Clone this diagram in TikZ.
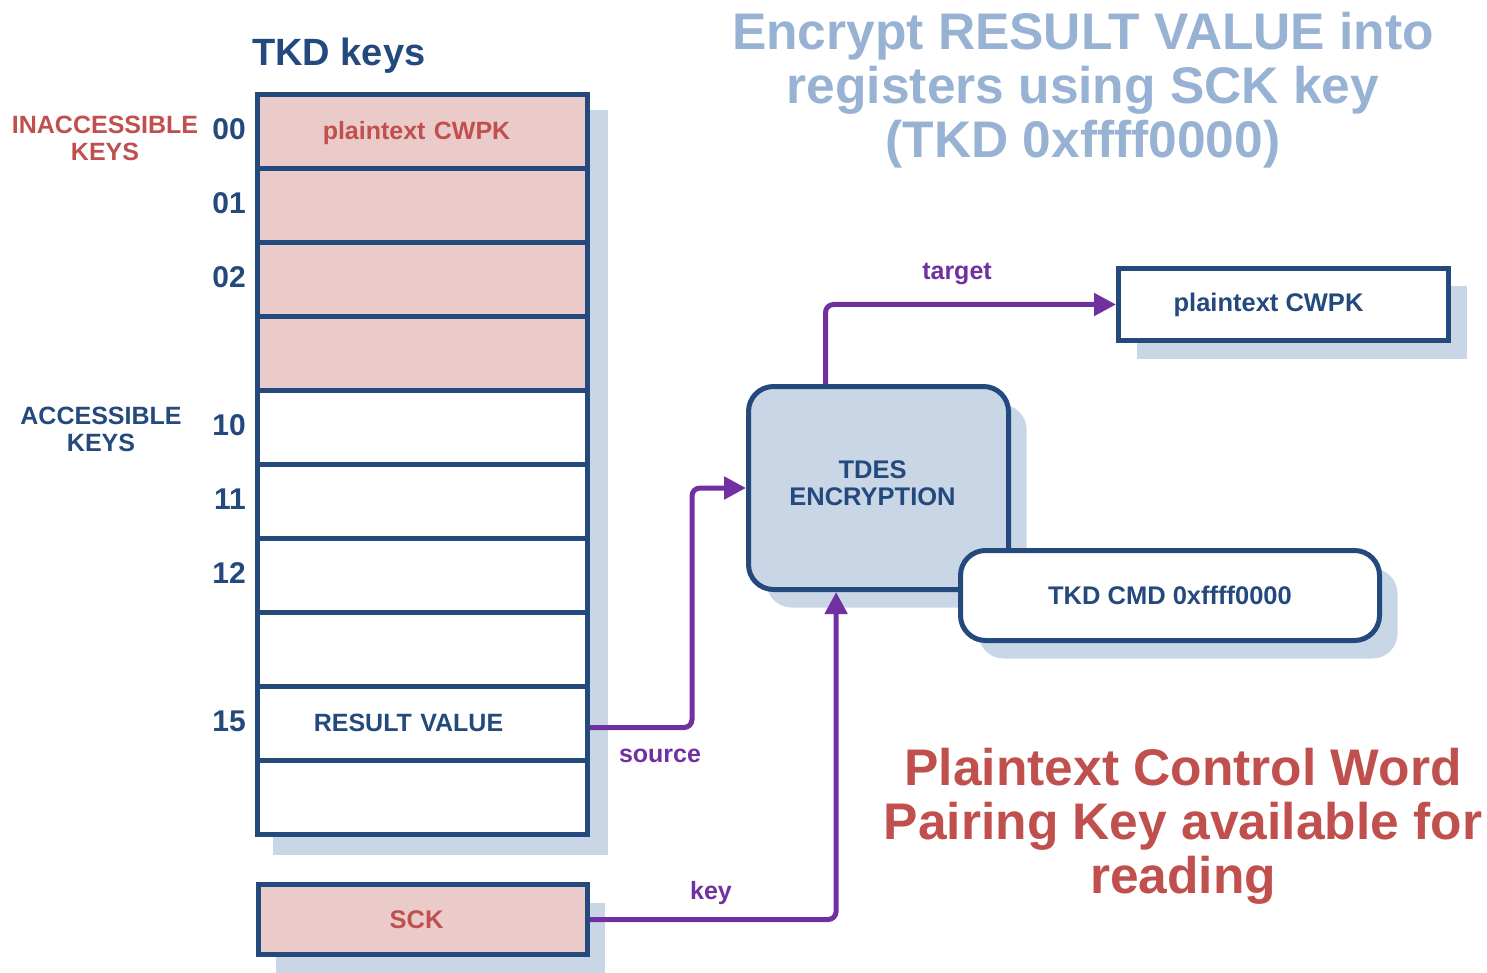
\documentclass[tikz,border=0pt]{standalone}
\usepackage{fontspec}
\setmainfont{Liberation Sans}
\usetikzlibrary{positioning,calc,shapes.multipart,shadows,arrows.meta,backgrounds}
\definecolor{keyblue}{HTML}{24497D}
\definecolor{keypink}{HTML}{EBCBCA}
\definecolor{alertred}{HTML}{C0504D}
\definecolor{flowpurple}{HTML}{7030A0}
\definecolor{paleblue}{HTML}{C8D6E6}
\definecolor{titleblue}{HTML}{98B2D4}
\newcommand\rowstrut{\rule[-26.5pt]{0pt}{69pt}}
\newcommand\boldsize[2]{\fontsize{#1}{#2}\selectfont\bfseries}

\begin{document}
\begin{tikzpicture}
   [x=1pt,y=-1pt,
    stack/.style={rectangle split, rectangle split parts=#1, draw=keyblue,
      line width=5pt, text width=330pt, inner xsep=0pt, inner ysep=0pt,
      align=center, text=keyblue, font=\boldsize{25pt}{27pt}},
    shadowed/.style={drop shadow={shadow xshift=18pt,shadow yshift=-18pt,
      fill=paleblue,opacity=1}},
    box/.style={draw=keyblue, line width=5pt, text=keyblue, align=center,
      inner sep=0pt, font=\boldsize{25.5pt}{27pt}},
    rowlbl/.style={anchor=base east, inner sep=0pt, text=keyblue,
      font=\boldsize{30pt}{30pt}},
    grouplbl/.style={align=center, inner sep=0pt, font=\boldsize{25pt}{27pt}},
    flow/.style={draw=flowpurple, line width=5pt, rounded corners=8pt,
      -{Triangle[length=22pt,width=22pt]}},
    flowlbl/.style={anchor=base, inner sep=0pt, text=flowpurple,
      font=\boldsize{25pt}{27pt}},
    bigtext/.style={anchor=north, align=center, inner sep=0pt,
      font=\boldsize{51.5pt}{54pt}}]
\useasboundingbox (0,0) rectangle (1487,973);
\node [anchor=base west, inner sep=0pt, text=keyblue, font=\boldsize{38pt}{40pt}] (stktitle)
  at (252,65.5) {TKD keys};
\node [stack=10, rectangle split part fill={keypink,keypink,keypink,keypink,
		white,white,white,white,white,white}] (stk) at (422.5,464.5) {
\nodepart{one} \rowstrut\hspace*{-12pt}\textcolor{alertred}{plaintext CWPK}
\nodepart{two} \rowstrut
\nodepart{three} \rowstrut
\nodepart{four} \rowstrut
\nodepart{five} \rowstrut
\nodepart{six} \rowstrut
\nodepart{seven} \rowstrut
\nodepart{eight} \rowstrut
\nodepart{nine} \rowstrut\hspace*{-28pt}RESULT VALUE
\nodepart{ten} \rowstrut
};
\begin{scope}[on background layer]
\fill [paleblue] ($(stk.north west)+(18,18)$) rectangle ($(stk.south east)+(18,18)$);
\end{scope}
\node [rowlbl, xshift=-9pt] (k00) at (stk.west |- stk.text) {00};
\node [rowlbl, xshift=-9pt] (k01) at (stk.west |- stk.two) {01};
\node [rowlbl, xshift=-9pt] (k02) at (stk.west |- stk.three) {02};
\node [rowlbl, xshift=-9pt] (k10) at (stk.west |- stk.five) {10};
\node [rowlbl, xshift=-9pt] (k11) at (stk.west |- stk.six) {11};
\node [rowlbl, xshift=-9pt] (k12) at (stk.west |- stk.seven) {12};
\node [rowlbl, xshift=-9pt] (k15) at (stk.west |- stk.nine) {15};
\node [grouplbl, text=alertred] (inacc) at (105,138.5) {INACCESSIBLE\\KEYS};
\node [grouplbl, text=keyblue] (acc) at (101,429) {ACCESSIBLE\\KEYS};
\node [box, shadowed, fill=keypink, text=alertred, minimum width=329pt, minimum height=70pt,
  below=45pt of stk] (sck) {\hspace*{-12pt}SCK};
\node [box, shadowed, fill=paleblue, rounded corners=25pt, minimum width=260pt,
  minimum height=203pt] (tdes) at (878.5,488) {\hspace*{-12pt}TDES\\\hspace*{-12pt}ENCRYPTION\\[-17pt]};
\node [box, shadowed, fill=white, rounded corners=25pt, minimum width=419pt,
  minimum height=90pt] (cmd) at (1170,595.5) {TKD CMD 0xffff0000};
\node [box, shadowed, fill=white, minimum width=330pt, minimum height=72pt]
  (cwpk) at (1283.5,304.5) {\hspace*{-30pt}plaintext CWPK};
\draw [flow] ($(tdes.north west)!0.3!(tdes.north east)$) |- (cwpk.west);
\draw [flow] ($(stk.east |- stk.nine)+(0,-4)$) -| ($(tdes.west)+(-54,0)$) -- (tdes.west);
\draw [flow] (sck.east) -| ($(tdes.south west)!0.34!(tdes.south east)$);
\node [flowlbl] (lbltarget) at (957,280) {target};
\node [flowlbl] (lblsource) at (660,762) {source};
\node [flowlbl] (lblkey) at (711,899) {key};
\node [bigtext, text=titleblue] (title) at (1083,12)
  {Encrypt RESULT VALUE into\\registers using SCK key\\(TKD 0xffff0000)};
\node [bigtext, text=alertred] (note) at (1183,748)
  {Plaintext Control Word\\Pairing Key available for\\reading};
\end{tikzpicture}
\end{document}
